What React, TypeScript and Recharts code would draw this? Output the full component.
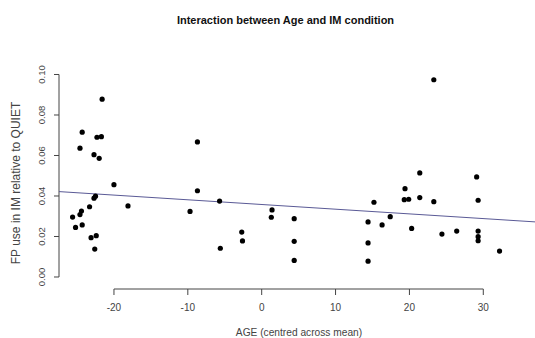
import React from 'react';
import { ScatterChart, Scatter, XAxis, YAxis, ReferenceLine } from 'recharts';

// AGE (centred) and FP use per participant
const ages = [
    -21.6, -24.3, -22.3, -21.7, -24.6, -22.7, -22.0, -20.0, -8.7, -8.7,
    -22.7, -22.5, -23.3, -18.1, -9.7, -24.4, -24.6, -25.6, -25.2, -24.3,
    -23.1, -22.4, -22.6, -5.7, 1.4, 1.3, 4.4, -2.7, -2.6, -5.6,
    4.4, 4.4, 23.3, 21.4, 29.1, 19.4, 19.3, 19.9, 21.4, 23.3,
    29.3, 15.2, 17.4, 14.4, 16.3, 20.3, 24.4, 26.4, 29.3, 29.3,
    29.3, 32.2, 14.4, 14.4,
];
const fpUse = [
    0.0878, 0.0715, 0.069, 0.0693, 0.0636, 0.0604, 0.0586, 0.0456, 0.0667, 0.0426,
    0.0389, 0.0399, 0.0347, 0.0351, 0.0324, 0.0326, 0.0308, 0.0296, 0.0245, 0.0257,
    0.0194, 0.0204, 0.0138, 0.0375, 0.0331, 0.0295, 0.0288, 0.0222, 0.0178, 0.0142,
    0.0176, 0.0082, 0.0974, 0.0514, 0.0494, 0.0436, 0.0382, 0.0384, 0.0392, 0.0372,
    0.0379, 0.0369, 0.0298, 0.0272, 0.0257, 0.024, 0.0212, 0.0227, 0.0227, 0.0199,
    0.0179, 0.0128, 0.0168, 0.0078,
];
const xTicks = [-20, -10, 0, 10, 20, 30];
const yTicks = [0, 0.02, 0.04, 0.06, 0.08, 0.1];

// fitted line
const intercept = 0.0358;
const slope = -0.000232;

const X_MIN = -27.44;
const X_MAX = 37.0;
const Y_MIN = -0.00593;
const Y_MAX = 0.10716;

const points = ages.map((age, i) => ({ age, fp: fpUse[i] }));

const font = '"Liberation Sans", Arial, sans-serif';
const textColor = '#444';

const XTick = (props: any) => {
    const { x, payload } = props;
    return (
        <text x={x} y={307} textAnchor="middle" dominantBaseline="central" fontSize={10} fontFamily={font} fill={textColor}>
            {payload.value}
        </text>
    );
};

const YTick = (props: any) => {
    const { y, payload } = props;
    return (
        <text
            x={42}
            y={y}
            transform={`rotate(-90, 42, ${y})`}
            textAnchor="middle"
            dominantBaseline="central"
            fontSize={9.5}
            fontFamily={font}
            fill={textColor}
        >
            {payload.value.toFixed(2)}
        </text>
    );
};

const Dot = (props: any) => <circle cx={props.cx} cy={props.cy} r={2.6} fill="#000" />;

export default function App() {
    return (
        <div style={{ position: 'absolute', left: 0, top: 0, width: 535, height: 338, background: '#fff', fontFamily: font }}>
            <ScatterChart width={535} height={338} margin={{ top: 60, right: 0, bottom: 0, left: 0 }}>
                <XAxis
                    type="number"
                    dataKey="age"
                    domain={[X_MIN, X_MAX]}
                    allowDataOverflow
                    ticks={xTicks}
                    height={49}
                    axisLine={false}
                    tickLine={{ stroke: textColor }}
                    tickSize={6}
                    tick={<XTick />}
                />
                <YAxis
                    type="number"
                    dataKey="fp"
                    domain={[Y_MIN, Y_MAX]}
                    allowDataOverflow
                    ticks={yTicks}
                    width={59}
                    axisLine={false}
                    tickLine={{ stroke: textColor }}
                    tickSize={5}
                    tick={<YTick />}
                />
                <ReferenceLine
                    segment={[{ x: -20, y: Y_MIN }, { x: 30, y: Y_MIN }]}
                    stroke={textColor}
                    ifOverflow="visible"
                />
                <ReferenceLine
                    segment={[{ x: X_MIN, y: 0 }, { x: X_MIN, y: 0.1 }]}
                    stroke={textColor}
                    ifOverflow="visible"
                />
                <ReferenceLine
                    segment={[
                        { x: X_MIN, y: intercept + slope * X_MIN },
                        { x: X_MAX, y: intercept + slope * X_MAX },
                    ]}
                    stroke="#5a5a96"
                    strokeWidth={1}
                />
                <Scatter data={points} shape={<Dot />} isAnimationActive={false} />
            </ScatterChart>
            <div style={{ position: 'absolute', left: 285.5, top: 20, transform: 'translate(-50%, -50%)', fontSize: 11, fontWeight: 'bold', color: '#111', whiteSpace: 'nowrap' }}>
                Interaction between Age and IM condition
            </div>
            <div style={{ position: 'absolute', left: 299, top: 332, transform: 'translate(-50%, -50%)', fontSize: 10.2, color: textColor, whiteSpace: 'nowrap' }}>
                AGE (centred across mean)
            </div>
            <div style={{ position: 'absolute', left: 16, top: 182.5, transform: 'translate(-50%, -50%) rotate(-90deg)', fontSize: 12, color: textColor, whiteSpace: 'nowrap' }}>
                FP use in IM relative to QUIET
            </div>
        </div>
    );
}
